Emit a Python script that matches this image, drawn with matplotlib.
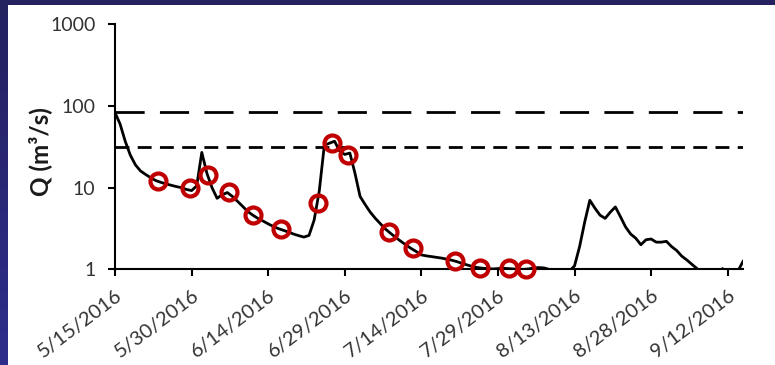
import matplotlib
matplotlib.use("Agg")
import matplotlib.pyplot as plt
import matplotlib.dates as mdates
from matplotlib.patches import Rectangle
from matplotlib.colors import LinearSegmentedColormap
from matplotlib.ticker import FixedLocator, FuncFormatter, NullLocator
import numpy as np
import pandas as pd

plt.rcParams["font.family"] = ["Lato", "DejaVu Sans"]

# Daily discharge, 15 May - 15 Sep 2016 (m3/s)
start_date = "2016-05-15"
daily_flow = [
    83, 60, 37, 25, 19, 16, 14.5, 13.2, 12.2, 11.6,
    11.1, 10.7, 10.3, 10.0, 9.5, 9.2, 10.5, 27, 15.0, 10.0,
    7.4, 8.2, 8.7, 7.8, 6.8, 5.9, 5.1, 4.6, 4.2, 3.9,
    3.6, 3.35, 3.15, 3.0, 2.85, 2.7, 2.58, 2.48, 2.6, 4.0,
    9.0, 33, 35, 37, 28, 25.5, 26.5, 15, 7.8, 6.2,
    5.0, 4.2, 3.6, 3.1, 2.75, 2.45, 2.2, 1.98, 1.8, 1.65,
    1.5, 1.46, 1.43, 1.40, 1.37, 1.33, 1.29, 1.24, 1.18, 1.13,
    1.08, 1.05, 1.03, 1.02, 1.01, 1.02, 1.03, 1.02, 1.01, 1.0,
    1.0, 1.01, 1.04, 1.05, 1.04, 1.0, 0.9, 0.85, 0.9, 0.95,
    1.1, 1.9, 3.8, 7.0, 5.6, 4.6, 4.2, 5.0, 5.8, 4.4,
    3.3, 2.7, 2.4, 2.0, 2.3, 2.35, 2.15, 2.15, 2.2, 1.9,
    1.7, 1.45, 1.3, 1.15, 1.02, 0.9, 0.85, 0.85, 0.9, 1.02,
    0.9, 0.9, 0.95, 1.25,
]

# Sampling events
sample_times = [
    "2016-05-23 12:00", "2016-05-29 17:00", "2016-06-02 07:00",
    "2016-06-06 10:00", "2016-06-11 02:00", "2016-06-16 10:00",
    "2016-06-23 17:00", "2016-06-26 12:00", "2016-06-29 17:00",
    "2016-07-07 14:00", "2016-07-12 10:00", "2016-07-20 12:00",
    "2016-07-25 14:00", "2016-07-31 02:00", "2016-08-03 14:00",
]
sample_flow = [12.1, 10.0, 14.3, 8.8, 4.6, 3.15, 6.4, 35, 25,
               2.9, 1.8, 1.28, 1.05, 1.03, 1.0]

# Reference discharge levels (m3/s)
upper_threshold = 84
lower_threshold = 31.4

y_ticks = [1, 10, 100, 1000]
tick_step_days = 15
n_ticks = 9

dates = pd.date_range(start_date, periods=len(daily_flow), freq="D")
samples = pd.to_datetime(sample_times)

W, H = 775, 365
fig = plt.figure(figsize=(W / 100, H / 100), dpi=100, facecolor="#24225f")

# slide panel and side strip
fig.patches.append(Rectangle((8 / W, 0), 1, 1 - 5 / H, transform=fig.transFigure,
                             facecolor="white", edgecolor="none", zorder=-5))
strip = fig.add_axes([0, 0, 8 / W, 1 - 5 / H])
grad = np.linspace(0, 1, 256).reshape(-1, 1)
cmap = LinearSegmentedColormap.from_list("strip", ["#24225f", "#2e2d8c"])
strip.imshow(grad, aspect="auto", cmap=cmap, origin="upper")
strip.axis("off")

ax = fig.add_axes([115 / W, 1 - 269.3 / H, 628 / W, 245 / H])
ax.set_zorder(3)
ax.patch.set_alpha(0)
ax.set_yscale("log")
ax.set_ylim(1, 1000)
t0 = pd.Timestamp(start_date)
ax.set_xlim(t0, t0 + pd.Timedelta(days=123))

ax.axhline(upper_threshold, color="black", lw=2, dashes=(10.5, 5.5), zorder=2)
ax.axhline(lower_threshold, color="black", lw=2, dashes=(5.0, 3.0), zorder=2)

ax.plot(dates, daily_flow, color="black", lw=2.0, zorder=3)
ax.plot(samples, sample_flow, linestyle="none", marker="o", ms=11.5,
        mfc="none", mec="#c00000", mew=3.0, zorder=4, clip_on=False)

for s in ("top", "right"):
    ax.spines[s].set_visible(False)
for s in ("left", "bottom"):
    ax.spines[s].set_linewidth(1.5)
    ax.spines[s].set_color("black")

tick_dates = [t0 + pd.Timedelta(days=tick_step_days * k) for k in range(n_ticks)]
ax.xaxis.set_major_locator(FixedLocator(mdates.date2num(tick_dates)))
ax.xaxis.set_minor_locator(NullLocator())
ax.xaxis.set_major_formatter(FuncFormatter(
    lambda v, p: (lambda d: f"{d.month}/{d.day}/{d.year}")(mdates.num2date(v))))
ax.yaxis.set_major_locator(FixedLocator(y_ticks))
ax.yaxis.set_minor_locator(NullLocator())
ax.yaxis.set_major_formatter(FuncFormatter(lambda v, p: f"{int(round(v))}"))

ax.tick_params(axis="both", direction="out", length=5, width=1.5, color="black",
               labelsize=14, labelcolor="#333333")
ax.tick_params(axis="x", labelsize=14.5, pad=7.5)
ax.tick_params(axis="y", pad=9)
for lab in ax.get_xticklabels():
    lab.set_rotation(37)
    lab.set_ha("right")
    lab.set_va("top")
    lab.set_rotation_mode("anchor")

ax.set_ylabel("Q (m³/s)", fontsize=17.5, fontweight="bold", color="#1a1a1a")
ax.yaxis.set_label_coords(-0.100, 0.48)

fig.savefig("out.png", dpi=100, facecolor=fig.get_facecolor())
